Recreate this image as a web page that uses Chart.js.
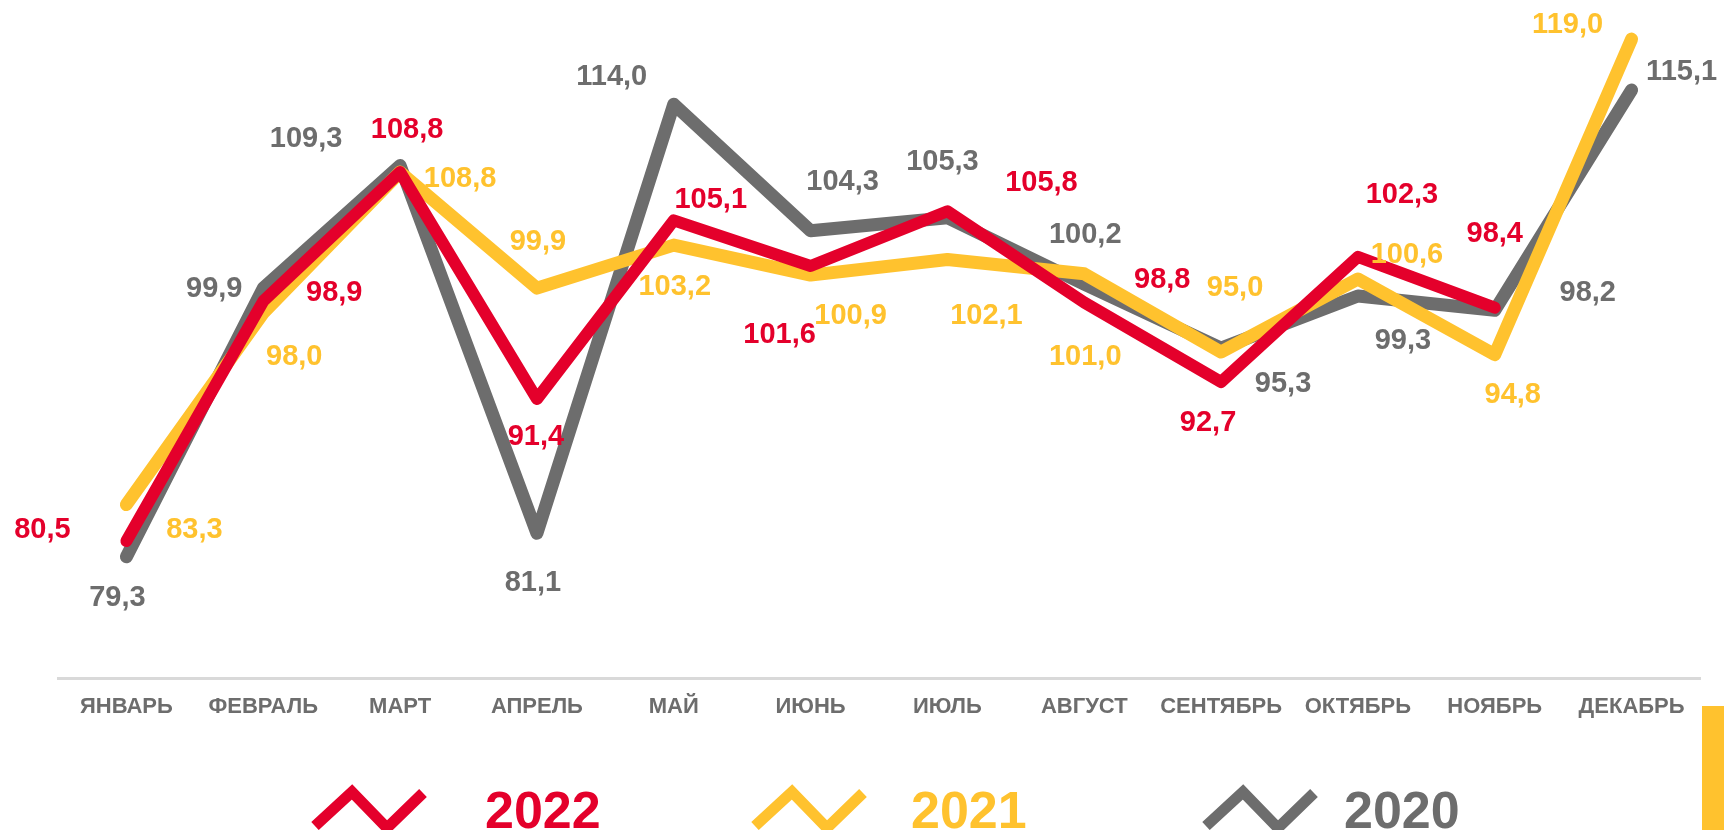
<!DOCTYPE html>
<html lang="ru">
<head>
<meta charset="utf-8">
<title>Индекс по месяцам</title>
<script src="https://cdn.jsdelivr.net/npm/chart.js@4.4.1/dist/chart.umd.min.js"></script>
<style>
    html, body { margin: 0; padding: 0; background: #ffffff; }
    #wrap { position: relative; width: 1724px; height: 830px; overflow: hidden; }
    #chart { display: block; }
    .side-bar { position: absolute; left: 1702px; top: 706px; width: 22px; height: 124px; background: #ffc22e; }
</style>
</head>
<body>
<div id="wrap">
    <canvas id="chart" width="1724" height="830"></canvas>
    <div class="side-bar"></div>
</div>
<script>
    "use strict";

    // Data
    var months = ["ЯНВАРЬ", "ФЕВРАЛЬ", "МАРТ", "АПРЕЛЬ", "МАЙ", "ИЮНЬ", "ИЮЛЬ", "АВГУСТ", "СЕНТЯБРЬ", "ОКТЯБРЬ", "НОЯБРЬ", "ДЕКАБРЬ"];
    var years = ["2022", "2021", "2020"];
    var values2022 = [80.5, 98.9, 108.8, 91.4, 105.1, 101.6, 105.8, 98.8, 92.7, 102.3, 98.4, null];
    var values2021 = [83.3, 98.0, 108.8, 99.9, 103.2, 100.9, 102.1, 101.0, 95.0, 100.6, 94.8, 119.0];
    var values2020 = [79.3, 99.9, 109.3, 81.1, 114.0, 104.3, 105.3, 100.2, 95.3, 99.3, 98.2, 115.1];

    // Styles
    var RED = "#e4002b", YELLOW = "#ffc22e", GREY = "#6d6d6d";
    var FONT = "'Liberation Sans', Arial, sans-serif";

    // where each value label sits, relative to its point (px)
    var offsets2022 = [[-84, -11], [71, -8], [7, -42], [-1, 38], [37, -20], [-31, 69], [94, -28], [78, -22], [-13, 41], [44, -62], [0, -74], [0, 0]];
    var offsets2021 = [[68, 25], [31, 44], [60, 7], [1, -46], [1, 42], [40, 41], [39, 57], [1, 83], [14, -64], [49, -24], [18, 40], [-64, -14]];
    var offsets2020 = [[-9, 41], [-49, 1], [-94, -27], [-4, 50], [-62, -27], [32, -49], [-5, -56], [1, -49], [62, 36], [45, 45], [93, -17], [50, -18]];

    // legend item positions (icon left, text left)
    var legendIconX = [313, 753, 1204];
    var legendTextX = [485, 911, 1344];

    function fmt(v) {
        return v.toFixed(1).replace(".", ",");
    }

    // Value labels
    var valueLabels = {
        id: "valueLabels",
        afterDatasetsDraw: function (chart) {
            var ctx = chart.ctx;
            ctx.save();
            ctx.font = "bold 29px " + FONT;
            ctx.textAlign = "center";
            ctx.textBaseline = "middle";
            chart.data.datasets.forEach(function (ds, di) {
                var meta = chart.getDatasetMeta(di);
                ctx.fillStyle = ds.borderColor;
                meta.data.forEach(function (pt, i) {
                    var v = ds.data[i];
                    if (v === null || v === undefined) return;
                    var off = ds.labelOffsets[i];
                    ctx.fillText(fmt(v), pt.x + off[0], pt.y + off[1]);
                });
            });
            ctx.restore();
        }
    };

    // Legend along the bottom edge
    var bottomLegend = {
        id: "bottomLegend",
        afterDraw: function (chart) {
            var ctx = chart.ctx;
            ctx.save();
            chart.data.datasets.forEach(function (ds, i) {
                var x = legendIconX[i];
                ctx.strokeStyle = ds.borderColor;
                ctx.lineWidth = 11;
                ctx.lineJoin = "miter";
                ctx.lineCap = "butt";
                ctx.beginPath();
                ctx.moveTo(x + 2, 826);
                ctx.lineTo(x + 39, 792);
                ctx.lineTo(x + 74, 828);
                ctx.lineTo(x + 110, 793);
                ctx.stroke();
                ctx.fillStyle = ds.borderColor;
                ctx.font = "bold 52px " + FONT;
                ctx.textBaseline = "alphabetic";
                ctx.fillText(ds.label, legendTextX[i], 828);
            });
            ctx.restore();
        }
    };

    function line(label, data, color, width, offsets) {
        return {
            label: label,
            data: data,
            borderColor: color,
            backgroundColor: color,
            borderWidth: width,
            pointRadius: 0,
            borderJoinStyle: "round",
            borderCapStyle: "round",
            tension: 0,
            clip: false,
            labelOffsets: offsets
        };
    }

    new Chart(document.getElementById("chart"), {
        type: "line",
        data: {
            labels: months,
            datasets: [
                line(years[0], values2022, RED, 12, offsets2022),
                line(years[1], values2021, YELLOW, 13, offsets2021),
                line(years[2], values2020, GREY, 13, offsets2020)
            ]
        },
        options: {
            responsive: false,
            animation: false,
            layout: { padding: { left: 58, right: 24, top: 0, bottom: 0 } },
            plugins: {
                legend: { display: false },
                tooltip: { enabled: false }
            },
            scales: {
                x: {
                    offset: true,
                    grid: { display: false, drawTicks: false },
                    border: { display: true, color: "#d9d9d9", width: 3 },
                    ticks: {
                        color: GREY,
                        padding: 16,
                        maxRotation: 0,
                        autoSkip: false,
                        font: { family: FONT, size: 22, weight: "bold" }
                    },
                    afterFit: function (scale) { scale.height = 152; }
                },
                y: {
                    display: false,
                    min: 70,
                    max: 122
                }
            }
        },
        plugins: [valueLabels, bottomLegend]
    });
</script>
</body>
</html>
